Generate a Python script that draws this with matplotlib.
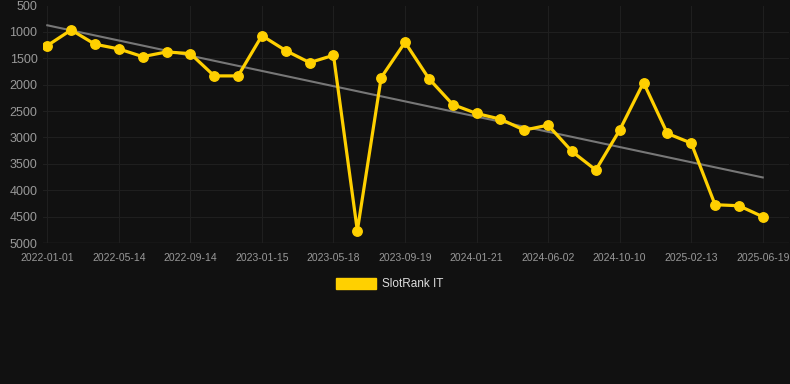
import numpy as np
import matplotlib
matplotlib.use('Agg')
import matplotlib.pyplot as plt

plt.rcParams['font.family'] = ['Liberation Sans', 'DejaVu Sans']

# rank values, one point per period
ranks = [1260, 963, 1234, 1323, 1469, 1380, 1412, 1834, 1834, 1071,
         1355, 1582, 1443, 4767, 1866, 1197, 1885, 2376, 2546, 2653,
         2861, 2767, 3265, 3617, 2861, 1960, 2925, 3107, 4275, 4294,
         4502]
# labels shown under every third point
tick_labels = ['2022-01-01', '2022-05-14', '2022-09-14', '2023-01-15',
               '2023-05-18', '2023-09-19', '2024-01-21', '2024-06-02',
               '2024-10-10', '2025-02-13', '2025-06-19']
trend = [875, 3758]  # trend line at first and last point
y_ticks = [500, 1000, 1500, 2000, 2500, 3000, 3500, 4000, 4500, 5000]

bg = '#111111'
gold = '#FFD000'

fig = plt.figure(figsize=(7.9, 3.84), dpi=100, facecolor=bg)
ax = fig.add_axes([43/790, 1-243/384, 746/790, 237.5/384])
ax.set_facecolor(bg)

x = np.arange(len(ranks))
ax.plot([x[0], x[-1]], trend, '-', color='#777777', lw=1.5, zorder=2)
ax.plot(x, ranks, '-o', color=gold, lw=2.3, ms=6.8, zorder=3, label='SlotRank IT')

ax.set_ylim(5000, 500)
ax.set_xlim(-0.18, 31.1)
ax.set_yticks(y_ticks)
ax.set_xticks(x[::3])
ax.set_xticklabels(tick_labels)
ax.grid(True, color='#1f1f1f', lw=0.8, zorder=0)
for s in ax.spines.values():
    s.set_visible(False)
ax.axhline(5000, color='#2e2e2e', lw=1, zorder=1)
ax.tick_params(axis='y', length=0, pad=4, labelsize=9, labelcolor='#999999')
ax.tick_params(axis='x', length=0, pad=7, labelsize=7.5, labelcolor='#999999')

# legend as a filled box like the original
leg = fig.legend(handles=[plt.Rectangle((0, 0), 1, 1, color=gold)], labels=['SlotRank IT'],
                 loc='center', bbox_to_anchor=(0.4935, 1-284/384), frameon=False,
                 fontsize=8.5, handlelength=3.4, handleheight=1.1, handletextpad=0.5)
for t in leg.get_texts():
    t.set_color('#dddddd')

fig.savefig('out.png', dpi=100, facecolor=bg)
